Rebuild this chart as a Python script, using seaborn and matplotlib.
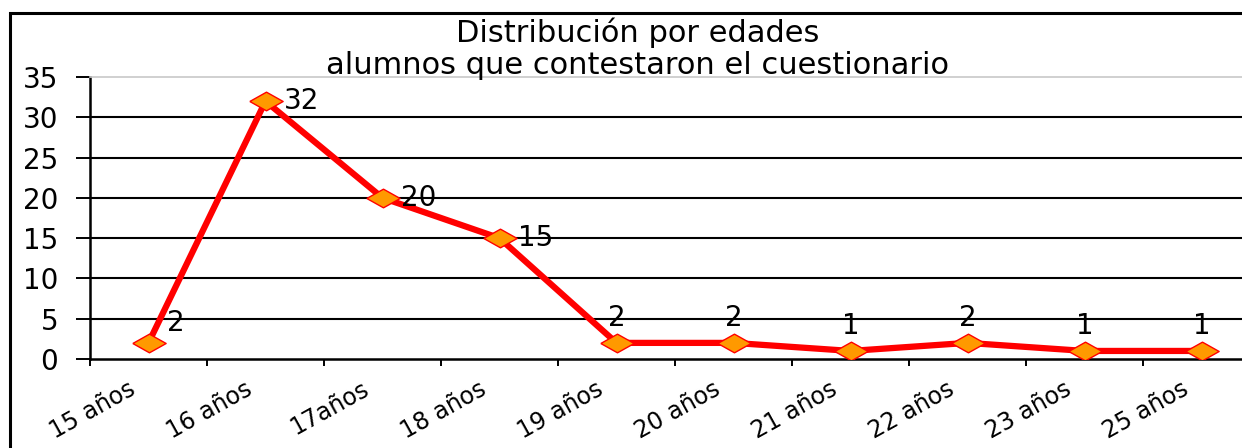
import numpy as np
import pandas as pd
import seaborn as sns
import matplotlib
matplotlib.use("Agg")
import matplotlib.pyplot as plt
import matplotlib.transforms as mtransforms
from matplotlib.patches import Rectangle

edades = ['15 años', '16 años', '17años', '18 años', '19 años',
          '20 años', '21 años', '22 años', '23 años', '25 años']
alumnos = [2, 32, 20, 15, 2, 2, 1, 2, 1, 1]
y_ticks = [0, 5, 10, 15, 20, 25, 30, 35]
titulo = "Distribución por edades\nalumnos que contestaron el cuestionario"

df = pd.DataFrame({'pos': np.arange(len(edades)), 'edad': edades, 'alumnos': alumnos})

sns.set_style("white")
plt.rcParams['font.family'] = ['DejaVu Sans']
plt.rcParams['text.color'] = 'black'

W, H = 1242, 448
fig = plt.figure(figsize=(W / 100, H / 100), dpi=100)
ax = fig.add_axes([90 / W, 1 - 359 / H, 1170 / W, (359 - 77) / H])

# gridlines (black) except the top one, which is the light plot-area border
for t in y_ticks[1:-1]:
    ax.axhline(t, color='black', lw=1.5, zorder=1)

diamante = [(-1, 0), (0, 0.56), (1, 0), (0, -0.56), (-1, 0)]
sns.lineplot(data=df, x='pos', y='alumnos', sort=False, ax=ax, color='#FF0000',
             lw=4.5, marker=diamante, markersize=24, markerfacecolor='#FF9900',
             markeredgecolor='#FF0000', markeredgewidth=1.0, zorder=3)

ax.set_xlim(-0.5, len(edades) - 0.5)
ax.set_ylim(0, 35)
ax.set_xlabel('')
ax.set_ylabel('')

ax.set_yticks(y_ticks)
ax.tick_params(axis='y', direction='out', length=10, width=1.4, pad=13,
               labelsize=20, colors='black', left=True)
ax.set_xticks(df['pos'], edades)
ax.set_xticks(np.arange(-0.5, len(edades)), minor=True)
ax.tick_params(axis='x', which='major', length=0, pad=13, labelsize=17,
               colors='black')
ax.tick_params(axis='x', which='minor', direction='out', length=5, width=1.4,
               bottom=True, colors='black')
offset = mtransforms.ScaledTranslation(-15 / 72, 0, fig.dpi_scale_trans)
for lab in ax.get_xticklabels():
    lab.set_rotation(29)
    lab.set_ha('right')
    lab.set_va('top')
    lab.set_rotation_mode('anchor')
    lab.set_transform(lab.get_transform() + offset)

for side in ['left', 'bottom']:
    ax.spines[side].set_color('black')
    ax.spines[side].set_linewidth(1.8)
ax.spines['top'].set_color('#c8c8c8')
ax.spines['top'].set_linewidth(1.2)
ax.spines['right'].set_visible(False)

# data labels: first four to the right, the rest above
for i, v in enumerate(alumnos):
    if i < 4:
        dy = 14 if i == 0 else 0
        ax.annotate(str(v), (i, v), xytext=(13, dy), textcoords='offset points',
                    ha='left', va='center', fontsize=20, zorder=4)
    else:
        ax.annotate(str(v), (i, v), xytext=(0, 8), textcoords='offset points',
                    ha='center', va='bottom', fontsize=20, zorder=4)

fig.text(638 / W, 1 - 49 / H, titulo, ha='center', va='center', fontsize=22,
         linespacing=1.12)

fig.patches.append(Rectangle((10 / W, -0.05), 1.1, 1 - 13 / H + 0.05,
                             transform=fig.transFigure, fill=False,
                             lw=2.2, ec='black'))

fig.savefig('out.png', dpi=100)
